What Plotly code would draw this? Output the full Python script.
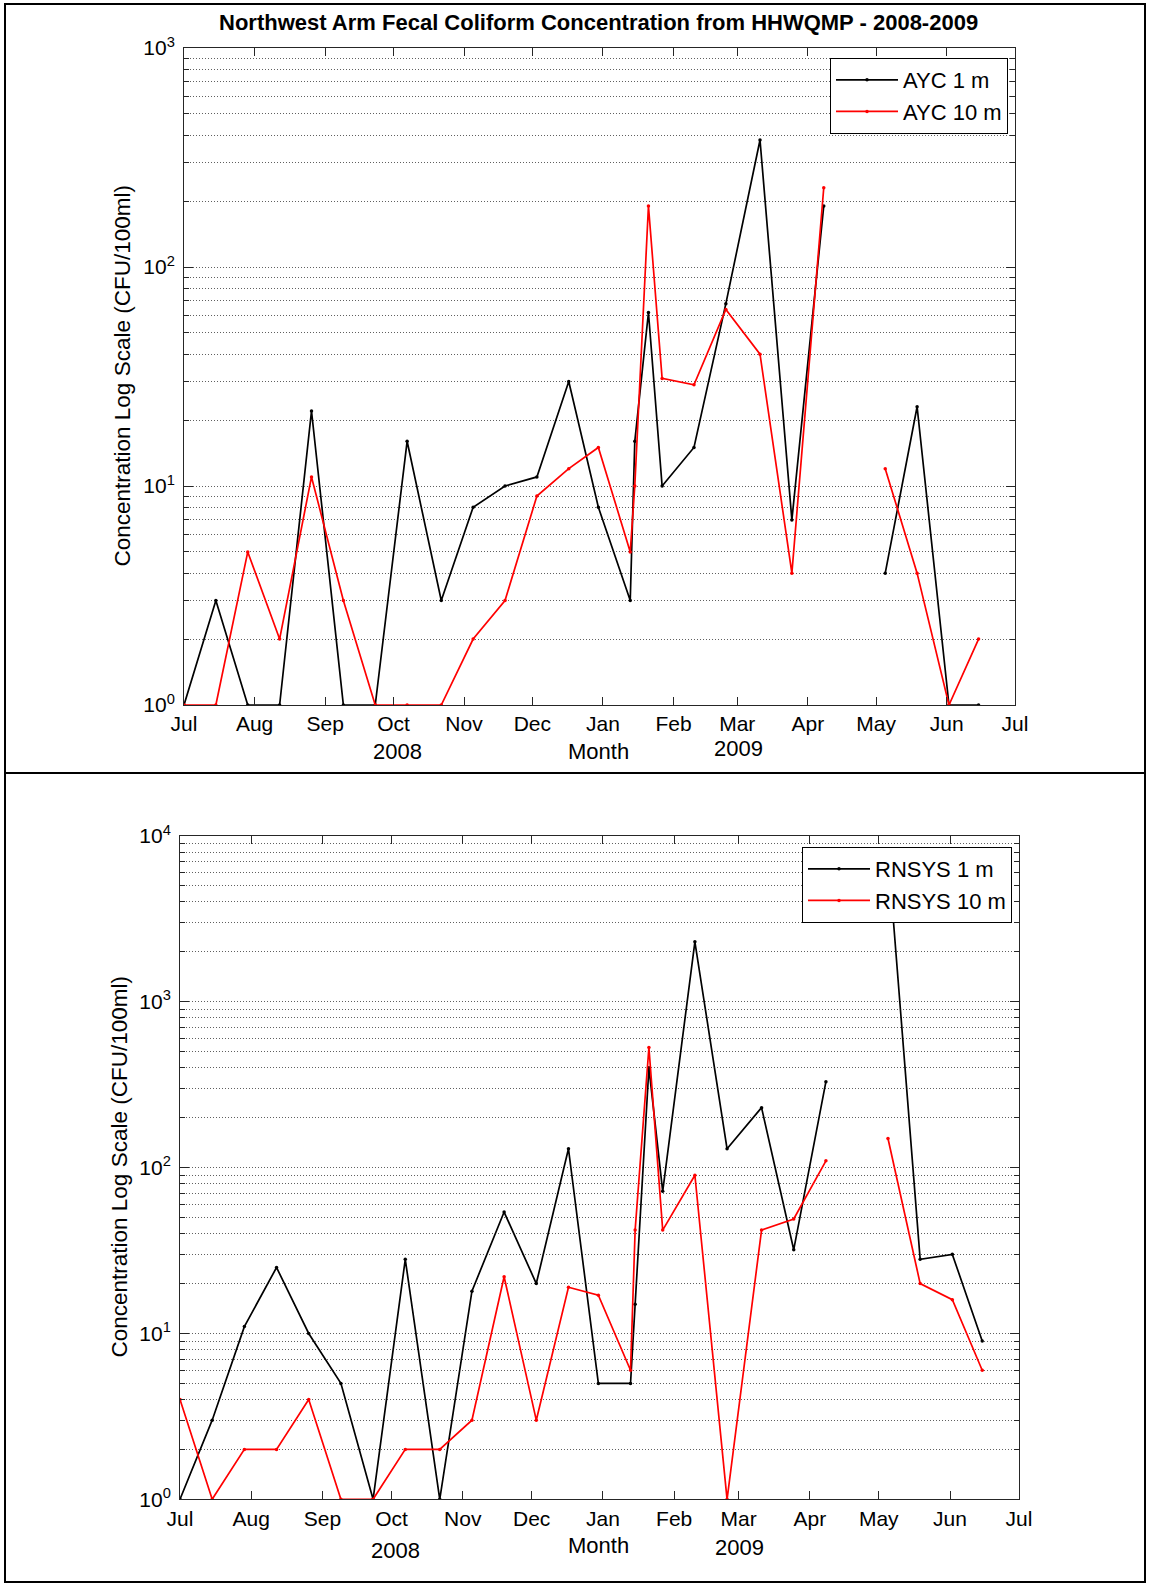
import plotly.graph_objects as go

W, H = 1150, 1585

# ---------------- data ----------------
dates = ['2008-07-01', '2008-07-15', '2008-07-29', '2008-08-12', '2008-08-26',
         '2008-09-09', '2008-09-23', '2008-10-07', '2008-10-22', '2008-11-05',
         '2008-11-19', '2008-12-03', '2008-12-17', '2008-12-30', '2009-01-13',
         '2009-01-15', '2009-01-21', '2009-01-27', '2009-02-10', '2009-02-24',
         '2009-03-11', '2009-03-25', '2009-04-08', '2009-04-21', '2009-05-05',
         '2009-05-19', '2009-06-02', '2009-06-15']

ayc_1m = [1, 3, 1, 1, 22, 1, 1, 16, 3, 8, 10, 11, 30, 8, 3,
          16, 62, 10, 15, 68, 380, 7, 190, None, 4, 23, 1, 1]
ayc_10m = [1, 1, 5, 2, 11, 3, 1, 1, 1, 2, 3, 9, 12, 15, 5,
           10, 190, 31, 29, 64, 40, 4, 230, None, 12, 4, 1, 2]

rnsys_1m = [1, 3, 11, 25, 10, 5, 1, 28, 1, 18, 54, 20, 130, 5, 5,
            15, 400, 72, 2300, 130, 230, 32, 330, None, 8000, 28, 30, 9]
rnsys_10m = [4, 1, 2, 2, 4, 1, 1, 2, 2, 3, 22, 3, 19, 17, 6,
             42, 530, 42, 90, 1, 42, 49, 110, None, 150, 20, 16, 6]

month_ticks = ['2008-07-01', '2008-08-01', '2008-09-01', '2008-10-01', '2008-11-01',
               '2008-12-01', '2009-01-01', '2009-02-01', '2009-03-01', '2009-04-01',
               '2009-05-01', '2009-06-01', '2009-07-01']
month_labels = ['Jul', 'Aug', 'Sep', 'Oct', 'Nov', 'Dec', 'Jan', 'Feb', 'Mar',
                'Apr', 'May', 'Jun', 'Jul']

title_text = 'Northwest Arm Fecal Coliform Concentration from HHWQMP - 2008-2009'
ytitle_text = 'Concentration Log Scale (CFU/100ml)'

FONT = 'Liberation Sans, Arial, Helvetica, sans-serif'


def px_x(p):
    return p / W


def px_y(p):
    return 1 - p / H


def decades(n):
    return [10 ** k for k in range(n + 1)]


def minors(n):
    return [m * 10 ** k for k in range(n) for m in range(2, 10)]


def sup_labels(n):
    return ['10<sup>%d</sup>' % k for k in range(n + 1)]


fig = go.Figure()

line_w = 1.7
mk = 3.5
fig.add_trace(go.Scatter(x=dates, y=ayc_1m, name='AYC 1 m', mode='lines+markers',
                         line=dict(color='black', width=line_w), marker=dict(size=mk, color='black'),
                         xaxis='x', yaxis='y', legend='legend'))
fig.add_trace(go.Scatter(x=dates, y=ayc_10m, name='AYC 10 m', mode='lines+markers',
                         line=dict(color='#ff0000', width=line_w), marker=dict(size=mk, color='#ff0000'),
                         xaxis='x', yaxis='y', legend='legend'))
fig.add_trace(go.Scatter(x=dates, y=rnsys_1m, name='RNSYS 1 m', mode='lines+markers',
                         line=dict(color='black', width=line_w), marker=dict(size=mk, color='black'),
                         xaxis='x2', yaxis='y2', legend='legend2'))
fig.add_trace(go.Scatter(x=dates, y=rnsys_10m, name='RNSYS 10 m', mode='lines+markers',
                         line=dict(color='#ff0000', width=line_w), marker=dict(size=mk, color='#ff0000'),
                         xaxis='x2', yaxis='y2', legend='legend2'))

AX_COL = '#262626'
GRID_COL = '#606060'


def xaxis_cfg(domain, anchor):
    return dict(type='date', domain=domain, anchor=anchor,
                range=[month_ticks[0], month_ticks[-1]],
                tickmode='array', tickvals=month_ticks, ticktext=month_labels,
                ticks='inside', ticklen=8, tickwidth=1, tickcolor=AX_COL,
                showline=True, linecolor=AX_COL, linewidth=1, mirror='allticks',
                showgrid=False, zeroline=False, automargin=False,
                tickfont=dict(family=FONT, size=21, color='black'))


def yaxis_cfg(domain, anchor, n):
    return dict(type='log', domain=domain, anchor=anchor, range=[0, n],
                tickmode='array', tickvals=decades(n), ticktext=sup_labels(n),
                ticks='inside', ticklen=9, tickwidth=1, tickcolor=AX_COL,
                showline=True, linecolor=AX_COL, linewidth=1, mirror='allticks',
                showgrid=True, gridcolor=GRID_COL, griddash='1px,2px', gridwidth=1,
                zeroline=False, ticklabelstandoff=4, automargin=False,
                minor=dict(tickmode='array', tickvals=minors(n), ticks='inside', ticklen=5,
                           tickcolor=AX_COL, showgrid=True, gridcolor=GRID_COL,
                           griddash='1px,2px', gridwidth=1),
                tickfont=dict(family=FONT, size=21, color='black'))


top_x = [px_x(184), px_x(1015)]
top_y = [px_y(705), px_y(48)]
bot_x = [px_x(180), px_x(1019)]
bot_y = [px_y(1499.3), px_y(836)]

annotations = [
    dict(text='<b>%s</b>' % title_text, x=px_x(598), y=px_y(22), xref='paper', yref='paper',
         showarrow=False, xanchor='center', yanchor='middle',
         font=dict(family=FONT, size=22, color='black')),
    dict(text=ytitle_text, x=px_x(122), y=px_y(376.5), xref='paper', yref='paper',
         showarrow=False, textangle=-90, xanchor='center', yanchor='middle',
         font=dict(family=FONT, size=22.5, color='black')),
    dict(text=ytitle_text, x=px_x(119), y=px_y(1167.5), xref='paper', yref='paper',
         showarrow=False, textangle=-90, xanchor='center', yanchor='middle',
         font=dict(family=FONT, size=22.5, color='black')),
]
for txt, xx, yy in [('2008', 397, 751), ('Month', 598, 751), ('2009', 738, 748),
                    ('2008', 395, 1550), ('Month', 598, 1545), ('2009', 739, 1547)]:
    annotations.append(dict(text=txt, x=px_x(xx), y=px_y(yy), xref='paper', yref='paper',
                            showarrow=False, xanchor='center', yanchor='middle',
                            font=dict(family=FONT, size=22, color='black')))

shapes = [
    dict(type='rect', xref='paper', yref='paper', x0=px_x(5), x1=px_x(1145),
         y0=px_y(1582), y1=px_y(4), line=dict(color='black', width=2)),
    dict(type='line', xref='paper', yref='paper', x0=px_x(5), x1=px_x(1145),
         y0=px_y(773), y1=px_y(773), line=dict(color='black', width=2)),
]

legend_common = dict(xanchor='right', yanchor='top', bgcolor='white',
                     bordercolor='black', borderwidth=1, itemwidth=62,
                     font=dict(family=FONT, size=22, color='black'),
                     tracegroupgap=0)

fig.update_layout(
    width=W, height=H,
    margin=dict(l=0, r=0, t=0, b=0, pad=0, autoexpand=False),
    paper_bgcolor='white', plot_bgcolor='white',
    showlegend=True,
    xaxis=xaxis_cfg(top_x, 'y'),
    yaxis=yaxis_cfg(top_y, 'x', 3),
    xaxis2=xaxis_cfg(bot_x, 'y2'),
    yaxis2=yaxis_cfg(bot_y, 'x2', 4),
    legend=dict(x=px_x(1008), y=px_y(58), **legend_common),
    legend2=dict(x=px_x(1012), y=px_y(847), **legend_common),
    annotations=annotations,
    shapes=shapes,
)

fig.write_html('out.html', config={'displayModeBar': False},
               post_script="document.body.style.margin='0px';")
